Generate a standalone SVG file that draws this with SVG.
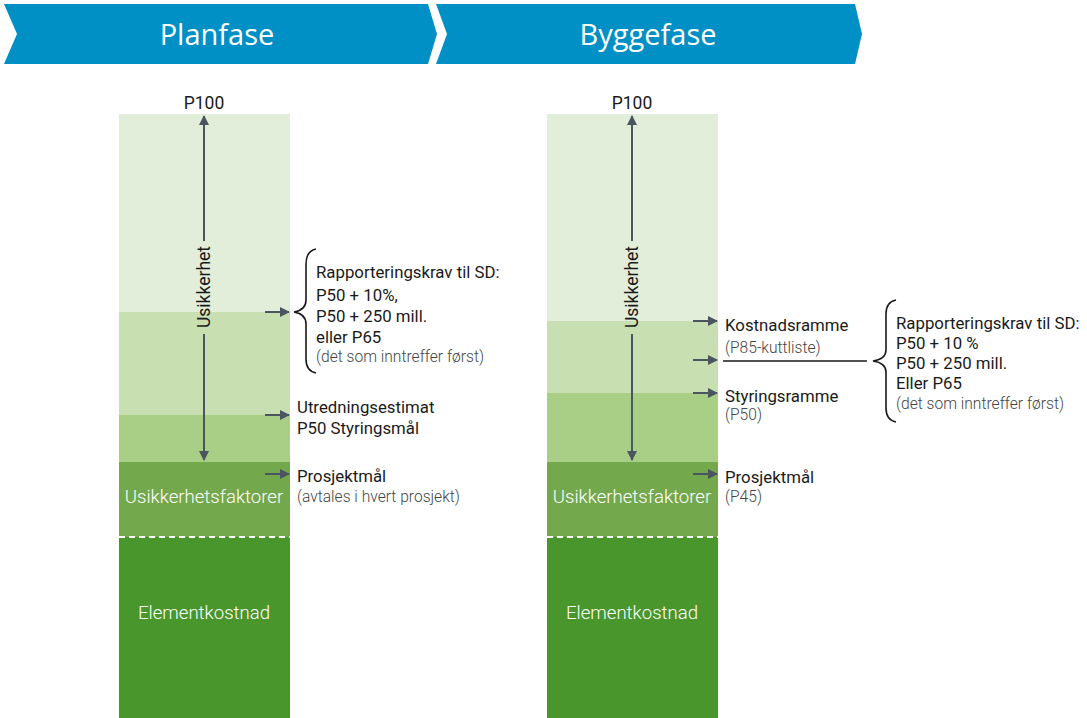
<svg xmlns="http://www.w3.org/2000/svg" width="1087" height="718" viewBox="0 0 1087 718">
<defs>
<marker id="ah" viewBox="0 0 10 10" refX="9" refY="5" markerWidth="10" markerHeight="10" markerUnits="userSpaceOnUse" orient="auto-start-reverse">
<path d="M0,0 L10,5 L0,10 z" fill="#4a5560"/>
</marker>
<style>
.hd{fill:#0090c5}
.ht{font-family:"Open Sans","DejaVu Sans",sans-serif;font-size:29px;fill:#fff;text-anchor:middle}
.t{font-family:Roboto,"Liberation Sans",sans-serif;font-size:16.8px;fill:#1a1a1a}
.g{font-family:Roboto,"Liberation Sans",sans-serif;font-size:15.6px;fill:#444;font-weight:300}
.w{font-family:Roboto,"Liberation Sans",sans-serif;font-size:18.6px;fill:#fff;text-anchor:middle;font-weight:300}
.v{font-family:Roboto,"Liberation Sans",sans-serif;font-size:17.5px;fill:#1a1a1a;text-anchor:middle}
.ar{stroke:#4a5560;stroke-width:2;fill:none}
.br{stroke:#1a1a1a;stroke-width:1.6;fill:none}
.b1{fill:#e2eed9}.b2{fill:#c8dfb2}.b3{fill:#a9cf87}.b4{fill:#74a84d}.b5{fill:#48962c}
.dash{stroke:#fff;stroke-width:2;stroke-dasharray:6,4}
</style>
</defs>
<g id="header-planfase">
<polygon class="hd" points="4,4 428,4 437,34 428,64 4,64 17,34"/>
<text class="ht" x="217" y="45">Planfase</text>
</g>
<g id="header-byggefase">
<polygon class="hd" points="436,4 855,4 862,34 855,64 436,64 447,34"/>
<text class="ht" x="648" y="45">Byggefase</text>
</g>
<g id="col-planfase">
<rect class="b1" x="119" y="114" width="171" height="198"/>
<rect class="b2" x="119" y="312" width="171" height="103"/>
<rect class="b3" x="119" y="415" width="171" height="47"/>
<rect class="b4" x="119" y="462" width="171" height="75"/>
<rect class="b5" x="119" y="537" width="171" height="181"/>
<line class="dash" x1="119" y1="537" x2="290" y2="537"/>
<text class="v" x="204" y="109">P100</text>
<text class="w" x="204" y="503">Usikkerhetsfaktorer</text>
<text class="w" x="204" y="619">Elementkostnad</text>
<text class="v" transform="translate(210,287) rotate(-90)">Usikkerhet</text>
</g>
<g id="col-byggefase">
<rect class="b1" x="547" y="114" width="171" height="207"/>
<rect class="b2" x="547" y="321" width="171" height="72"/>
<rect class="b3" x="547" y="393" width="171" height="69"/>
<rect class="b4" x="547" y="462" width="171" height="75"/>
<rect class="b5" x="547" y="537" width="171" height="181"/>
<line class="dash" x1="547" y1="537" x2="718" y2="537"/>
<text class="v" x="632" y="109">P100</text>
<text class="w" x="632" y="503">Usikkerhetsfaktorer</text>
<text class="w" x="632" y="619">Elementkostnad</text>
<text class="v" transform="translate(638,287) rotate(-90)">Usikkerhet</text>
</g>
<g id="labels-planfase">
<text class="t" x="316" y="278">Rapporteringskrav til SD:</text>
<text class="t" x="316" y="301">P50 + 10%,</text>
<text class="t" x="316" y="322">P50 + 250 mill.</text>
<text class="t" x="316" y="343">eller P65</text>
<text class="g" x="316" y="362">(det som inntreffer først)</text>
<text class="t" x="297" y="413">Utredningsestimat</text>
<text class="t" x="297" y="434">P50 Styringsmål</text>
<text class="t" x="297" y="482">Prosjektmål</text>
<text class="g" x="297" y="502">(avtales i hvert prosjekt)</text>
</g>
<g id="labels-byggefase">
<text class="t" x="725" y="331">Kostnadsramme</text>
<text class="g" x="725" y="353">(P85-kuttliste)</text>
<text class="t" x="725" y="402">Styringsramme</text>
<text class="g" x="725" y="420">(P50)</text>
<text class="t" x="725" y="483">Prosjektmål</text>
<text class="g" x="725" y="502">(P45)</text>
<text class="t" x="896" y="329">Rapporteringskrav til SD:</text>
<text class="t" x="896" y="349">P50 + 10 %</text>
<text class="t" x="896" y="369">P50 + 250 mill.</text>
<text class="t" x="896" y="389">Eller P65</text>
<text class="g" x="896" y="409">(det som inntreffer først)</text>
</g>
<g id="connectors">
<line class="ar" x1="204" y1="116" x2="204" y2="241" marker-start="url(#ah)"/>
<line class="ar" x1="204" y1="334" x2="204" y2="460" marker-end="url(#ah)"/>
<line class="ar" x1="632" y1="116" x2="632" y2="241" marker-start="url(#ah)"/>
<line class="ar" x1="632" y1="334" x2="632" y2="460" marker-end="url(#ah)"/>
<line class="ar" x1="265" y1="312" x2="289" y2="312" marker-end="url(#ah)"/>
<line class="ar" x1="265" y1="415" x2="289" y2="415" marker-end="url(#ah)"/>
<line class="ar" x1="265" y1="474" x2="289" y2="474" marker-end="url(#ah)"/>
<line class="ar" x1="693" y1="321" x2="717" y2="321" marker-end="url(#ah)"/>
<line class="ar" x1="693" y1="360" x2="717" y2="360" marker-end="url(#ah)"/>
<line class="ar" x1="693" y1="393" x2="717" y2="393" marker-end="url(#ah)"/>
<line class="ar" x1="693" y1="474" x2="717" y2="474" marker-end="url(#ah)"/>
<line x1="723" y1="361" x2="867" y2="361" stroke="#1a1a1a" stroke-width="1.6"/>
<path class="br" d="M316,249 Q306,251 306,264 L306,300 Q306,310 294,312 Q306,314 306,324 L306,359 Q306,371 316,373"/>
<path class="br" d="M896,300 Q886,302 886,314 L886,350 Q886,359 873,361 Q886,363 886,372 L886,408 Q886,420 896,422"/>
</g>
</svg>
